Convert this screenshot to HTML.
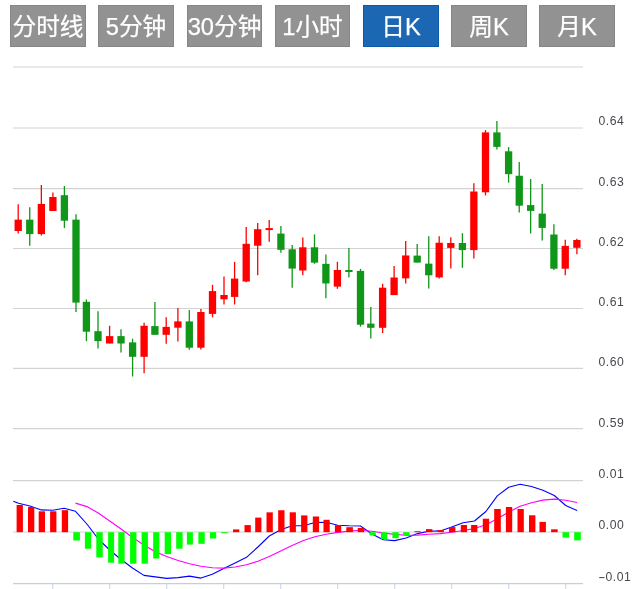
<!DOCTYPE html>
<html lang="zh-CN"><head><meta charset="utf-8"><title>K线图</title>
<style>
html,body{margin:0;padding:0;background:#fff;}
body{width:636px;height:589px;position:relative;overflow:hidden;font-family:"Liberation Sans","Noto Sans CJK SC",sans-serif;}
.btn{position:absolute;top:5px;width:76px;height:42px;line-height:44px;background:#929292;box-shadow:inset 0 0 0 1px #868686;color:#fff;font-size:23.7px;-webkit-text-stroke:0.25px #fff;text-align:center;white-space:nowrap;letter-spacing:0;}
.btn.on{background:#1c67b3;box-shadow:inset 0 0 0 1px #0b59ab;}
.chart{position:absolute;left:0;top:0;}
</style></head><body>
<div class="btn" style="left:10px;width:76px">分时线</div><div class="btn" style="left:98px;width:76px">5分钟</div><div class="btn" style="left:187px;width:75px">30分钟</div><div class="btn" style="left:275px;width:75px">1小时</div><div class="btn on" style="left:363px;width:76px">日K</div><div class="btn" style="left:451px;width:76px">周K</div><div class="btn" style="left:539px;width:76px">月K</div>
<svg class="chart" width="636" height="589" viewBox="0 0 636 589">
<g stroke="#d3d3d3" stroke-width="1.2" fill="none">
<line x1="13" y1="67" x2="583" y2="67"/>
<line x1="13" y1="128" x2="583" y2="128"/>
<line x1="13" y1="188.7" x2="583" y2="188.7"/>
<line x1="13" y1="248.5" x2="583" y2="248.5"/>
<line x1="13" y1="308.5" x2="583" y2="308.5"/>
<line x1="13" y1="368.3" x2="583" y2="368.3"/>
<line x1="13" y1="428.6" x2="583" y2="428.6"/>
<line x1="13" y1="480.7" x2="583" y2="480.7"/>
<line x1="13" y1="532.0" x2="583" y2="532.0"/>
</g>
<line x1="13" y1="583.6" x2="583" y2="583.6" stroke="#cbcdd4" stroke-width="1.1"/>
<g stroke="#ccd6eb" stroke-width="1.1">
<line x1="52.7" y1="583.6" x2="52.7" y2="589"/>
<line x1="109.7" y1="583.6" x2="109.7" y2="589"/>
<line x1="166.7" y1="583.6" x2="166.7" y2="589"/>
<line x1="223.7" y1="583.6" x2="223.7" y2="589"/>
<line x1="280.7" y1="583.6" x2="280.7" y2="589"/>
<line x1="337.7" y1="583.6" x2="337.7" y2="589"/>
<line x1="394.7" y1="583.6" x2="394.7" y2="589"/>
<line x1="451.7" y1="583.6" x2="451.7" y2="589"/>
<line x1="508.7" y1="583.6" x2="508.7" y2="589"/>
<line x1="565.7" y1="583.6" x2="565.7" y2="589"/>
</g>
<path d="M18.20 204.2V233.5" stroke="#ff0000" stroke-width="1.3" fill="none"/>
<rect x="14.55" y="219.65" width="7.3" height="11.35" fill="#ff0000"/>
<path d="M29.75 207.3V245.7" stroke="#109618" stroke-width="1.3" fill="none"/>
<rect x="26.10" y="219.65" width="7.3" height="14.45" fill="#109618"/>
<path d="M41.35 185.1V235.4" stroke="#ff0000" stroke-width="1.3" fill="none"/>
<rect x="37.70" y="203.9" width="7.3" height="30.20" fill="#ff0000"/>
<path d="M52.90 192.4V211.0" stroke="#ff0000" stroke-width="1.3" fill="none"/>
<rect x="49.25" y="197.0" width="7.3" height="14.00" fill="#ff0000"/>
<path d="M64.40 186.0V228.1" stroke="#109618" stroke-width="1.3" fill="none"/>
<rect x="60.75" y="195.2" width="7.3" height="25.50" fill="#109618"/>
<path d="M76.00 214.2V312.0" stroke="#109618" stroke-width="1.3" fill="none"/>
<rect x="72.35" y="219.65" width="7.3" height="82.95" fill="#109618"/>
<path d="M86.40 299.4V341.1" stroke="#109618" stroke-width="1.3" fill="none"/>
<rect x="82.75" y="301.8" width="7.3" height="29.90" fill="#109618"/>
<path d="M98.00 311.2V348.5" stroke="#109618" stroke-width="1.3" fill="none"/>
<rect x="94.35" y="331.2" width="7.3" height="9.90" fill="#109618"/>
<path d="M109.60 325.8V343.5" stroke="#ff0000" stroke-width="1.3" fill="none"/>
<rect x="105.95" y="336.1" width="7.3" height="7.40" fill="#ff0000"/>
<path d="M121.00 329.3V352.6" stroke="#109618" stroke-width="1.3" fill="none"/>
<rect x="117.35" y="336.1" width="7.3" height="7.40" fill="#109618"/>
<path d="M132.60 338.7V376.5" stroke="#109618" stroke-width="1.3" fill="none"/>
<rect x="128.95" y="342.4" width="7.3" height="14.40" fill="#109618"/>
<path d="M144.10 322.7V373.3" stroke="#ff0000" stroke-width="1.3" fill="none"/>
<rect x="140.45" y="325.8" width="7.3" height="31.00" fill="#ff0000"/>
<path d="M154.90 302.0V334.8" stroke="#109618" stroke-width="1.3" fill="none"/>
<rect x="151.25" y="326.1" width="7.3" height="8.70" fill="#109618"/>
<path d="M166.20 317.3V343.8" stroke="#ff0000" stroke-width="1.3" fill="none"/>
<rect x="162.55" y="326.9" width="7.3" height="7.90" fill="#ff0000"/>
<path d="M177.90 308.1V341.4" stroke="#ff0000" stroke-width="1.3" fill="none"/>
<rect x="174.25" y="321.4" width="7.3" height="6.30" fill="#ff0000"/>
<path d="M189.30 310.0V349.7" stroke="#109618" stroke-width="1.3" fill="none"/>
<rect x="185.65" y="321.4" width="7.3" height="26.30" fill="#109618"/>
<path d="M200.90 308.9V349.4" stroke="#ff0000" stroke-width="1.3" fill="none"/>
<rect x="197.25" y="312.0" width="7.3" height="35.70" fill="#ff0000"/>
<path d="M212.50 284.8V317.3" stroke="#ff0000" stroke-width="1.3" fill="none"/>
<rect x="208.85" y="291.1" width="7.3" height="22.80" fill="#ff0000"/>
<path d="M224.00 276.5V304.5" stroke="#ff0000" stroke-width="1.3" fill="none"/>
<rect x="220.35" y="295.0" width="7.3" height="4.30" fill="#ff0000"/>
<path d="M234.60 261.9V304.5" stroke="#ff0000" stroke-width="1.3" fill="none"/>
<rect x="230.95" y="278.6" width="7.3" height="18.30" fill="#ff0000"/>
<path d="M246.20 227.0V282.3" stroke="#ff0000" stroke-width="1.3" fill="none"/>
<rect x="242.55" y="243.8" width="7.3" height="37.70" fill="#ff0000"/>
<path d="M257.70 223.1V275.3" stroke="#ff0000" stroke-width="1.3" fill="none"/>
<rect x="254.05" y="229.2" width="7.3" height="16.50" fill="#ff0000"/>
<path d="M269.20 219.9V241.8" stroke="#ff0000" stroke-width="1.3" fill="none"/>
<rect x="265.55" y="228.1" width="7.3" height="2.00" fill="#ff0000"/>
<path d="M280.90 226.0V252.8" stroke="#109618" stroke-width="1.3" fill="none"/>
<rect x="277.25" y="233.6" width="7.3" height="16.20" fill="#109618"/>
<path d="M292.20 245.1V287.8" stroke="#109618" stroke-width="1.3" fill="none"/>
<rect x="288.55" y="249.3" width="7.3" height="19.30" fill="#109618"/>
<path d="M302.80 237.5V275.3" stroke="#ff0000" stroke-width="1.3" fill="none"/>
<rect x="299.15" y="247.3" width="7.3" height="23.20" fill="#ff0000"/>
<path d="M314.50 234.4V263.8" stroke="#109618" stroke-width="1.3" fill="none"/>
<rect x="310.85" y="247.3" width="7.3" height="15.35" fill="#109618"/>
<path d="M325.90 254.4V298.3" stroke="#109618" stroke-width="1.3" fill="none"/>
<rect x="322.25" y="263.85" width="7.3" height="19.60" fill="#109618"/>
<path d="M337.40 261.8V288.8" stroke="#ff0000" stroke-width="1.3" fill="none"/>
<rect x="333.75" y="270.0" width="7.3" height="16.60" fill="#ff0000"/>
<path d="M348.90 248.0V277.45" stroke="#109618" stroke-width="1.3" fill="none"/>
<rect x="345.25" y="270.0" width="7.3" height="2.00" fill="#109618"/>
<path d="M360.50 268.9V326.7" stroke="#109618" stroke-width="1.3" fill="none"/>
<rect x="356.85" y="270.9" width="7.3" height="53.80" fill="#109618"/>
<path d="M370.80 306.9V338.4" stroke="#109618" stroke-width="1.3" fill="none"/>
<rect x="367.15" y="323.6" width="7.3" height="4.20" fill="#109618"/>
<path d="M382.60 283.8V333.0" stroke="#ff0000" stroke-width="1.3" fill="none"/>
<rect x="378.95" y="287.7" width="7.3" height="40.10" fill="#ff0000"/>
<path d="M394.10 266.0V295.1" stroke="#ff0000" stroke-width="1.3" fill="none"/>
<rect x="390.45" y="277.5" width="7.3" height="17.60" fill="#ff0000"/>
<path d="M405.70 240.9V283.6" stroke="#ff0000" stroke-width="1.3" fill="none"/>
<rect x="402.05" y="255.45" width="7.3" height="22.90" fill="#ff0000"/>
<path d="M417.20 244.1V262.6" stroke="#109618" stroke-width="1.3" fill="none"/>
<rect x="413.55" y="255.6" width="7.3" height="7.00" fill="#109618"/>
<path d="M428.75 236.3V288.6" stroke="#109618" stroke-width="1.3" fill="none"/>
<rect x="425.10" y="263.65" width="7.3" height="11.65" fill="#109618"/>
<path d="M439.20 236.3V278.4" stroke="#ff0000" stroke-width="1.3" fill="none"/>
<rect x="435.55" y="242.75" width="7.3" height="34.60" fill="#ff0000"/>
<path d="M450.80 237.2V268.6" stroke="#ff0000" stroke-width="1.3" fill="none"/>
<rect x="447.15" y="243.0" width="7.3" height="4.90" fill="#ff0000"/>
<path d="M462.40 233.2V267.8" stroke="#109618" stroke-width="1.3" fill="none"/>
<rect x="458.75" y="243.0" width="7.3" height="7.10" fill="#109618"/>
<path d="M473.85 183.2V258.4" stroke="#ff0000" stroke-width="1.3" fill="none"/>
<rect x="470.20" y="191.5" width="7.3" height="58.60" fill="#ff0000"/>
<path d="M485.50 130.1V195.4" stroke="#ff0000" stroke-width="1.3" fill="none"/>
<rect x="481.85" y="132.4" width="7.3" height="59.90" fill="#ff0000"/>
<path d="M496.90 121.1V149.4" stroke="#109618" stroke-width="1.3" fill="none"/>
<rect x="493.25" y="132.4" width="7.3" height="14.50" fill="#109618"/>
<path d="M508.60 147.1V182.7" stroke="#109618" stroke-width="1.3" fill="none"/>
<rect x="504.95" y="151.3" width="7.3" height="22.85" fill="#109618"/>
<path d="M519.25 162.0V212.4" stroke="#109618" stroke-width="1.3" fill="none"/>
<rect x="515.60" y="175.75" width="7.3" height="29.95" fill="#109618"/>
<path d="M530.65 179.0V233.4" stroke="#109618" stroke-width="1.3" fill="none"/>
<rect x="527.00" y="205.1" width="7.3" height="5.80" fill="#109618"/>
<path d="M542.20 184.1V240.4" stroke="#109618" stroke-width="1.3" fill="none"/>
<rect x="538.55" y="213.6" width="7.3" height="14.30" fill="#109618"/>
<path d="M553.90 224.2V270.0" stroke="#109618" stroke-width="1.3" fill="none"/>
<rect x="550.25" y="234.5" width="7.3" height="34.20" fill="#109618"/>
<path d="M565.25 239.7V275.3" stroke="#ff0000" stroke-width="1.3" fill="none"/>
<rect x="561.60" y="245.9" width="7.3" height="22.80" fill="#ff0000"/>
<path d="M576.90 238.65V254.35" stroke="#ff0000" stroke-width="1.3" fill="none"/>
<rect x="573.25" y="240.0" width="7.3" height="7.80" fill="#ff0000"/>
<polyline points="13.3,501.2 18.5,503.3 29.9,506 41.3,509.9 52.7,510.3 64.1,508.3 75.5,511.3 86.9,524 98.3,539 109.7,550 121.1,559.5 132.5,568 143.9,575.4 155.3,576.9 166.7,578.4 178.1,577.6 189.5,576.1 200.9,578.1 212.3,574.3 223.7,568.5 235.1,563 246.5,557.3 257.9,547 269.3,536 280.7,529.8 292.1,525.7 303.5,525.7 314.9,522.5 326.3,522.2 337.7,525.2 349.1,525.8 360.5,526 371.9,534 383.3,539.8 394.7,540.6 406.1,538 417.5,533.6 428.9,531.2 440.3,530.9 451.7,526.9 463.1,522.8 474.5,521 485.9,511.5 497.3,495.9 508.7,487.2 520.1,484.2 531.5,486.5 542.9,490.2 554.3,495.5 565.7,505.5 577.1,510.6" fill="none" stroke="#0000ff" stroke-width="1.1" stroke-linejoin="round"/>
<polyline points="75.5,503.1 86.9,506.6 98.3,513 109.7,521 121.1,529 132.5,537.5 143.9,545 155.3,551.8 166.7,556.5 178.1,560.5 189.5,563.7 200.9,566.2 212.3,567.8 223.7,568.1 235.1,567 246.5,564.8 257.9,561.2 269.3,556.5 280.7,551 292.1,545.4 303.5,540.5 314.9,536.8 326.3,534.2 337.7,532.4 349.1,531.1 360.5,530.3 371.9,531.2 383.3,533 394.7,534.4 406.1,535.2 417.5,535.1 428.9,534.2 440.3,533.6 451.7,532.3 463.1,530.5 474.5,528.6 485.9,524.7 497.3,518.8 508.7,512 520.1,506.3 531.5,502.8 542.9,500.1 554.3,499.1 565.7,500.2 577.1,502.5" fill="none" stroke="#ff00ff" stroke-width="1.1" stroke-linejoin="round"/>
<rect x="16.6" y="505" width="6.30" height="27.20" fill="#ff0000"/>
<rect x="28" y="507" width="6.30" height="25.20" fill="#ff0000"/>
<rect x="38.7" y="511.3" width="6.30" height="20.90" fill="#ff0000"/>
<rect x="50.1" y="511.3" width="6.30" height="20.90" fill="#ff0000"/>
<rect x="61.8" y="510.2" width="6.30" height="22.00" fill="#ff0000"/>
<rect x="73.3" y="532.2" width="6.60" height="8.30" fill="#00ff00"/>
<rect x="84.9" y="532.2" width="6.30" height="16.50" fill="#00ff00"/>
<rect x="96.3" y="532.2" width="6.40" height="25.15" fill="#00ff00"/>
<rect x="108.1" y="532.2" width="6.00" height="30.50" fill="#00ff00"/>
<rect x="118.3" y="532.2" width="6.30" height="31.50" fill="#00ff00"/>
<rect x="130.1" y="532.2" width="6.30" height="31.50" fill="#00ff00"/>
<rect x="141.6" y="532.2" width="6.30" height="31.50" fill="#00ff00"/>
<rect x="153.2" y="532.2" width="6.10" height="26.30" fill="#00ff00"/>
<rect x="164.7" y="532.2" width="6.30" height="21.90" fill="#00ff00"/>
<rect x="176.2" y="532.2" width="6.40" height="16.50" fill="#00ff00"/>
<rect x="186.9" y="532.2" width="6.00" height="12.40" fill="#00ff00"/>
<rect x="198.4" y="532.2" width="6.30" height="11.60" fill="#00ff00"/>
<rect x="209.9" y="532.2" width="6.30" height="6.30" fill="#00ff00"/>
<rect x="221.2" y="532.2" width="6.60" height="1.10" fill="#00ff00"/>
<rect x="233" y="529.4" width="6.30" height="2.80" fill="#ff0000"/>
<rect x="244.5" y="525.1" width="6.30" height="7.10" fill="#ff0000"/>
<rect x="255.2" y="517.6" width="6.20" height="14.60" fill="#ff0000"/>
<rect x="266.5" y="512.35" width="6.30" height="19.85" fill="#ff0000"/>
<rect x="278.2" y="510.25" width="6.30" height="21.95" fill="#ff0000"/>
<rect x="289.7" y="512.3" width="6.20" height="19.90" fill="#ff0000"/>
<rect x="301.1" y="515.4" width="6.30" height="16.80" fill="#ff0000"/>
<rect x="312.8" y="516.5" width="6.30" height="15.70" fill="#ff0000"/>
<rect x="323.5" y="519.8" width="6.20" height="12.40" fill="#ff0000"/>
<rect x="334.9" y="525.2" width="6.30" height="7.00" fill="#ff0000"/>
<rect x="346.3" y="527.2" width="6.60" height="5.00" fill="#ff0000"/>
<rect x="357.7" y="528" width="6.50" height="4.20" fill="#ff0000"/>
<rect x="369.5" y="532.2" width="6.30" height="3.20" fill="#00ff00"/>
<rect x="380.9" y="532.2" width="6.30" height="6.80" fill="#00ff00"/>
<rect x="392.4" y="532.2" width="6.30" height="6.00" fill="#00ff00"/>
<rect x="403" y="532.2" width="6.60" height="2.90" fill="#00ff00"/>
<rect x="414.4" y="531.2" width="6.30" height="1.00" fill="#ff0000"/>
<rect x="426" y="529.1" width="6.40" height="3.10" fill="#ff0000"/>
<rect x="437.5" y="530.15" width="6.30" height="2.05" fill="#ff0000"/>
<rect x="449" y="527.05" width="6.40" height="5.15" fill="#ff0000"/>
<rect x="460.8" y="525" width="6.20" height="7.20" fill="#ff0000"/>
<rect x="471.1" y="525" width="6.30" height="7.20" fill="#ff0000"/>
<rect x="482.8" y="518.7" width="6.30" height="13.50" fill="#ff0000"/>
<rect x="494.2" y="509" width="6.60" height="23.20" fill="#ff0000"/>
<rect x="505.9" y="507" width="6.30" height="25.20" fill="#ff0000"/>
<rect x="517.5" y="509" width="6.30" height="23.20" fill="#ff0000"/>
<rect x="529" y="515.3" width="6.40" height="16.90" fill="#ff0000"/>
<rect x="539.5" y="521.9" width="6.40" height="10.30" fill="#ff0000"/>
<rect x="551.1" y="529.3" width="6.60" height="2.90" fill="#ff0000"/>
<rect x="562.5" y="532.2" width="6.60" height="5.40" fill="#00ff00"/>
<rect x="574.2" y="532.2" width="6.60" height="8.20" fill="#00ff00"/>
<g font-family="'Liberation Sans', sans-serif" font-size="12.2" letter-spacing="0.45" fill="#48484f">
<text x="598.6" y="124.8">0.64</text>
<text x="598.6" y="186.4">0.63</text>
<text x="598.6" y="246.2">0.62</text>
<text x="598.6" y="306.2">0.61</text>
<text x="598.6" y="366.0">0.60</text>
<text x="598.6" y="427.4">0.59</text>
<text x="598.6" y="478.4">0.01</text>
<text x="598.6" y="528.9">0.00</text>
<text y="581.3"><tspan x="598.3" textLength="8.0" lengthAdjust="spacingAndGlyphs">-</tspan><tspan x="605.6">0.01</tspan></text>
</g>
</svg>
</body></html>
